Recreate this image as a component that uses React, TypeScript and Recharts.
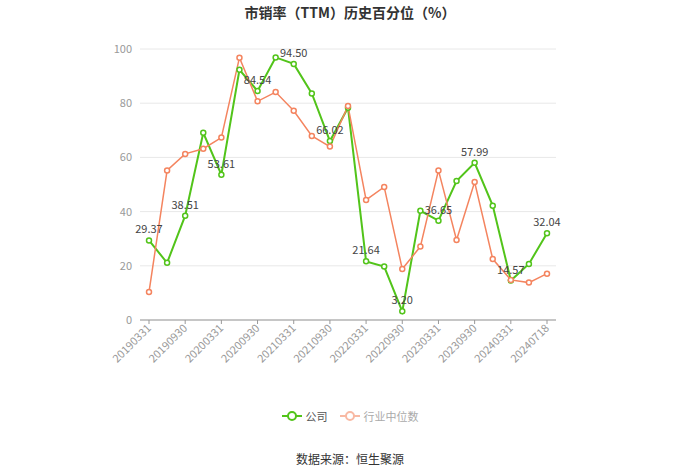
import { LineChart, Line, XAxis, YAxis, CartesianGrid, LabelList } from "recharts";

const dates = [
  "20190331", "20190630", "20190930", "20191231",
  "20200331", "20200630", "20200930", "20201231",
  "20210331", "20210630", "20210930", "20211231",
  "20220331", "20220630", "20220930", "20221231",
  "20230331", "20230630", "20230930", "20231231",
  "20240331", "20240630", "20240718",
];

// 公司
const company = [
  29.37, 21.1, 38.51, 69.1, 53.61, 92.3, 84.54, 96.9,
  94.5, 83.6, 66.02, 78.3, 21.64, 19.7, 3.2, 40.3,
  36.65, 51.3, 57.99, 42.2, 14.57, 20.7, 32.04,
];

// 行业中位数
const industry = [
  10.3, 55.2, 61.3, 63.2, 67.3, 96.8, 80.7, 84.1,
  77.2, 67.9, 64.0, 79.0, 44.3, 49.1, 18.8, 27.1,
  55.2, 29.5, 50.9, 22.5, 14.8, 13.8, 17.1,
];

const yTicks = [0, 20, 40, 60, 80, 100];

const GREEN = "#52c41a";
const ORANGE = "#f4845f";
const FONT = "'Noto Sans CJK SC', 'Liberation Sans', sans-serif";

const data = dates.map((d, i) => ({
  date: d,
  company: company[i],
  industry: industry[i],
}));

function RotatedTick(props: any) {
  const { x, y, payload } = props;
  return (
    <g transform={`translate(${x},${y})`}>
      <text
        x={0}
        y={0}
        dy={4}
        textAnchor="end"
        transform="rotate(-45)"
        fontSize={11}
        fill="#999"
        fontFamily={FONT}
      >
        {payload.value}
      </text>
    </g>
  );
}

function ValueLabel(props: any) {
  const { x, y, value, index } = props;
  if (index % 2 !== 0) return null;
  return (
    <text x={x} y={y - 7} textAnchor="middle" fontSize={11} fill="#444" fontFamily={FONT}>
      {Number(value).toFixed(2)}
    </text>
  );
}

function LegendItem({ color, label, textColor }: { color: string; label: string; textColor: string }) {
  return (
    <div style={{ display: "flex", alignItems: "center", gap: 4 }}>
      <svg width={20} height={12}>
        <line x1={0} x2={20} y1={6} y2={6} stroke={color} strokeWidth={2} />
        <circle cx={10} cy={6} r={4} fill="#fff" stroke={color} strokeWidth={2} />
      </svg>
      <span style={{ fontSize: 11, color: textColor }}>{label}</span>
    </div>
  );
}

export default function App() {
  return (
    <div style={{ position: "relative", width: 700, height: 474, background: "#fff", fontFamily: FONT }}>
      <style>{"body{margin:0}"}</style>
      <div
        style={{
          position: "absolute",
          top: 2,
          left: 0,
          width: 700,
          textAlign: "center",
          fontSize: 14,
          fontWeight: "bold",
          color: "#333",
        }}
      >
        市销率（TTM）历史百分位（%）
      </div>
      <LineChart
        width={700}
        height={474}
        data={data}
        margin={{ top: 49, right: 144, left: 0, bottom: 0 }}
      >
        <CartesianGrid vertical={false} stroke="#e8e8e8" />
        <XAxis
          dataKey="date"
          interval={1}
          height={154}
          padding={{ left: 9, right: 9 }}
          tick={<RotatedTick />}
          tickSize={4}
          tickLine={{ stroke: "#999" }}
          axisLine={{ stroke: "#999" }}
        />
        <YAxis
          width={140}
          domain={[0, 100]}
          ticks={yTicks}
          tickSize={0}
          tickMargin={8}
          axisLine={false}
          tickLine={false}
          tick={{ fontSize: 11, fill: "#999", fontFamily: FONT }}
        />
        <Line
          dataKey="company"
          stroke={GREEN}
          strokeWidth={2}
          dot={{ r: 2.5, fill: "#fff", stroke: GREEN, strokeWidth: 1.5 }}
          activeDot={false}
          isAnimationActive={false}
        />
        <Line
          dataKey="industry"
          stroke={ORANGE}
          strokeWidth={1.5}
          dot={{ r: 2.5, fill: "#fff", stroke: ORANGE, strokeWidth: 1.5 }}
          activeDot={false}
          isAnimationActive={false}
        />
        <Line
          dataKey="company"
          stroke="none"
          dot={false}
          activeDot={false}
          legendType="none"
          isAnimationActive={false}
        >
          <LabelList dataKey="company" content={<ValueLabel />} />
        </Line>
      </LineChart>
      <div
        style={{
          position: "absolute",
          top: 408,
          left: 0,
          width: 700,
          display: "flex",
          justifyContent: "center",
          gap: 12,
        }}
      >
        <LegendItem color={GREEN} label="公司" textColor="#555" />
        <LegendItem color="#f8b9a3" label="行业中位数" textColor="#aaa" />
      </div>
      <div
        style={{
          position: "absolute",
          top: 450,
          left: 0,
          width: 700,
          textAlign: "center",
          fontSize: 12,
          color: "#333",
        }}
      >
        数据来源：恒生聚源
      </div>
    </div>
  );
}
